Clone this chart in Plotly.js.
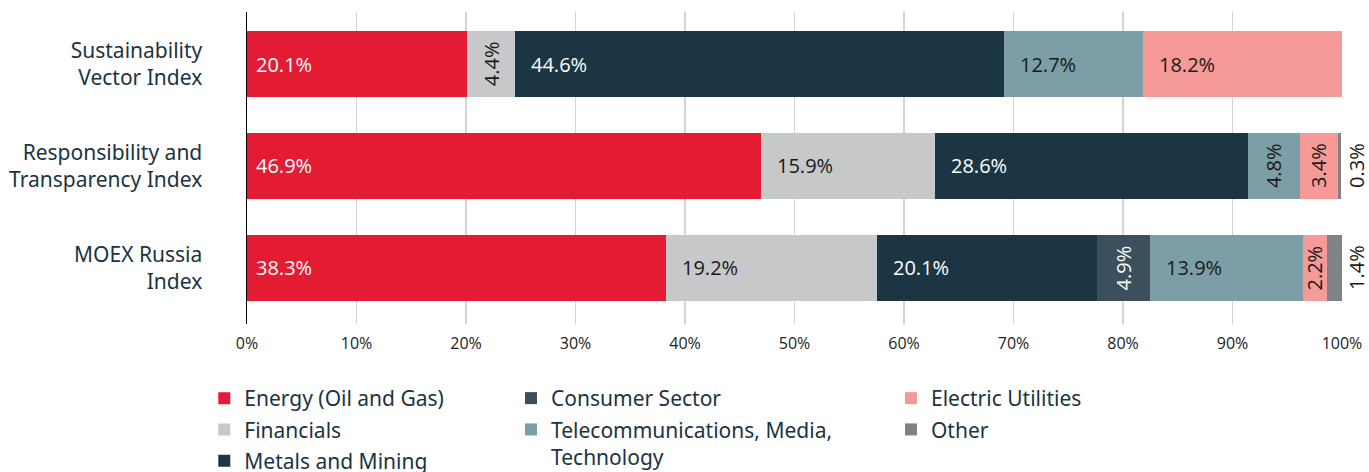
<!DOCTYPE html>
<html>
<head>
<meta charset="utf-8">
<script src="https://cdn.plot.ly/plotly-3.0.1.min.js"></script>
<style>
  html, body { margin: 0; padding: 0; background: #fff; }
  #root { width: 1369px; height: 472px; }
</style>
</head>
<body>
<div id="root"></div>
<script>
// index names, top to bottom
const indices = [
    'Sustainability<br>Vector Index',
    'Responsibility and<br>Transparency Index',
    'MOEX Russia<br>Index'
];

// sector shares, % (same order as indices)
const energy     = [20.1, 46.9, 38.3];
const financials = [4.4, 15.9, 19.2];
const metals     = [44.6, 28.6, 20.1];
const consumer   = [0, 0, 4.9];
const telecom    = [12.7, 4.8, 13.9];
const electric   = [18.2, 3.4, 2.2];
const other      = [0, 0.3, 1.4];

const sectorNames = [
    'Energy (Oil and Gas)', 'Financials', 'Metals and Mining', 'Consumer Sector',
    'Telecommunications, Media,<br>Technology', 'Electric Utilities', 'Other'
];
const sectorValues = [energy, financials, metals, consumer, telecom, electric, other];
const sectorColors = ['#e31b33', '#c7c8ca', '#1b3642', '#3b505c', '#7b9ea7', '#f59a98', '#818286'];
const labelColors  = ['#ffffff', '#1a1a1a', '#ffffff', '#ffffff', '#1a1a1a', '#1a1a1a', '#1a1a1a'];
const legendOf     = ['legend', 'legend', 'legend', 'legend2', 'legend2', 'legend3', 'legend3'];

const TEXT = '#1b3442';

var data = [];
for (let i = 0; i < sectorNames.length; i++) {
    data.push({
        type: 'bar',
        orientation: 'h',
        name: sectorNames[i],
        y: indices,
        x: sectorValues[i],
        marker: { color: sectorColors[i], line: { width: 0 } },
        legend: legendOf[i],
        legendgroup: 'g' + i,
        hoverinfo: 'skip'
    });
}

// value labels, placed from the cumulative sums
var annotations = [];
for (let j = 0; j < indices.length; j++) {
    let start = 0;
    for (let i = 0; i < sectorValues.length; i++) {
        const v = sectorValues[i][j];
        if (v > 0) {
            const txt = v.toFixed(1) + '%';
            const font = { family: 'Open Sans, sans-serif', size: 20, color: labelColors[i] };
            if (v < 2) {
                // too thin: label sits to the right of the bar
                annotations.push({
                    x: 100, y: indices[j], xref: 'x', yref: 'y', text: txt,
                    showarrow: false, textangle: -90, xanchor: 'center', xshift: 15,
                    font: { family: 'Open Sans, sans-serif', size: 20, color: '#1a1a1a' }
                });
            } else if (v < 6) {
                annotations.push({
                    x: start + v / 2, y: indices[j], xref: 'x', yref: 'y', text: txt,
                    showarrow: false, textangle: -90, xanchor: 'center', font: font
                });
            } else {
                annotations.push({
                    x: start, y: indices[j], xref: 'x', yref: 'y', text: txt,
                    showarrow: false, xanchor: 'left', xshift: i === 0 ? 7 : 14, font: font
                });
            }
        }
        start += v;
    }
}

const legendBase = {
    orientation: 'v',
    traceorder: 'grouped',
    tracegroupgap: 1,
    valign: 'top',
    yanchor: 'top',
    xanchor: 'left',
    y: -0.173,
    bgcolor: 'rgba(0,0,0,0)',
    font: { family: 'Noto Sans, sans-serif', size: 21, color: TEXT }
};

var layout = {
    width: 1369,
    height: 472,
    margin: { l: 247, r: 27, t: 12, b: 148, autoexpand: false },
    paper_bgcolor: '#ffffff',
    plot_bgcolor: '#ffffff',
    barmode: 'stack',
    bargap: 0.353,
    showlegend: true,
    xaxis: {
        range: [0, 100],
        dtick: 10,
        ticksuffix: '%',
        showgrid: true,
        gridcolor: '#d4d4d4',
        gridwidth: 1.2,
        zeroline: false,
        showline: false,
        ticks: '',
        ticklabelstandoff: 8,
        tickfont: { family: 'Open Sans, sans-serif', size: 16, color: '#222222' },
        automargin: false,
        fixedrange: true
    },
    yaxis: {
        type: 'category',
        range: [2.55, -0.51],
        showgrid: false,
        zeroline: false,
        showline: true,
        linecolor: '#000000',
        linewidth: 1.5,
        ticks: '',
        ticklabelstandoff: 39,
        tickfont: { family: 'Noto Sans, sans-serif', size: 21, color: TEXT },
        automargin: false,
        fixedrange: true
    },
    legend: Object.assign({}, legendBase, { x: -0.039 }),
    legend2: Object.assign({}, legendBase, { x: 0.2411 }),
    legend3: Object.assign({}, legendBase, { x: 0.5881 }),
    annotations: annotations
};

Plotly.newPlot('root', data, layout, { displayModeBar: false, staticPlot: true });
</script>
</body>
</html>
